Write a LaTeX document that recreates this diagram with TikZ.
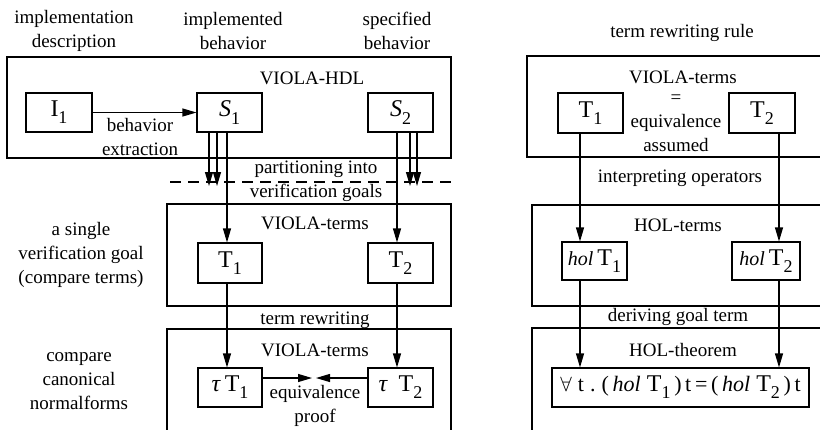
\documentclass[tikz,border=0pt]{standalone}
\usepackage{fontspec}
\setmainfont{Liberation Serif}
\usetikzlibrary{arrows.meta}

% text sizes
\newcommand\lblfont{\fontsize{19}{24}\selectfont}
\newcommand\boxfont{\fontsize{24}{26}\selectfont}
\newcommand\fmfont{\fontsize{22}{22}\selectfont}
% lowered index digit
\newcommand\lowidx[1]{\raisebox{-0.3em}{\fontsize{18}{18}\selectfont #1}}

\begin{document}
\begin{tikzpicture}[x=1pt,y=-1pt,line width=1.1pt,
  region/.style={draw,rectangle,inner sep=0pt},
  item/.style={draw,rectangle,inner sep=0pt,minimum height=39pt,font=\boxfont},
  lbl/.style={align=center,font=\lblfont,inner sep=0pt},
  arr/.style={-{Triangle[length=14pt,width=8pt]}},
  sep/.style={dash pattern=on 11pt off 7pt}]

\useasboundingbox (0,0) rectangle (820,429);
\clip (0,0) rectangle (820,429);

% ---------- left column: regions ----------
\node[region,minimum width=444pt,minimum height=101pt] (hdl) at (229,107.5) {};
\node[region,minimum width=284pt,minimum height=102pt] (vt1) at (309,255) {};
\node[region,minimum width=284pt,minimum height=151pt] (vt2) at (309,404.5) {};

% ---------- right column: regions ----------
\node[region,minimum width=333pt,minimum height=101pt] (rv) at (693.5,106.5) {};
\node[region,minimum width=328pt,minimum height=101pt] (hol) at (696,255.5) {};
\node[region,minimum width=328pt,minimum height=152pt] (thm) at (696,404) {};

% ---------- boxes ----------
\node[item,minimum width=66pt] (I1) at (59,112.5) {I\lowidx{1}};
\node[item,minimum width=65pt] (S1) at (229.5,112.5) {\textit{S}\lowidx{1}};
\node[item,minimum width=65pt] (S2) at (400.5,112.5) {\textit{S}\lowidx{2}};
\node[item,minimum width=64pt,minimum height=40pt] (T1) at (230,263) {T\lowidx{1}};
\node[item,minimum width=65pt,minimum height=40pt] (T2) at (400.5,263) {T\lowidx{2}};
\node[item,minimum width=64pt] (tT1) at (230,387.5) {\textit{τ}\,T\lowidx{1}};
\node[item,minimum width=65pt] (tT2) at (400.5,387.5) {\textit{τ}\;\,T\lowidx{2}};

\node[item,minimum width=65pt,minimum height=40pt] (rT1) at (590.5,113) {T\lowidx{1}};
\node[item,minimum width=66pt,minimum height=40pt] (rT2) at (762,113) {T\lowidx{2}};
\node[item,minimum width=65pt,minimum height=38pt] (hT1) at (594.5,261)
  {{\fontsize{20}{20}\selectfont\textit{hol}}\,T\lowidx{1}};
\node[item,minimum width=68pt,minimum height=38pt] (hT2) at (766,261)
  {{\fontsize{20}{20}\selectfont\textit{hol}}\,T\lowidx{2}};
\node[item,minimum width=257pt] (fa) at (680.5,387.5)
  {{\fmfont$\forall$\;t\;.\;(\,\textit{hol}\;}T\lowidx{1}{\fmfont\,)\,t\,=\,(\,\textit{hol}\;}T\lowidx{2}{\fmfont\,)\,t}};

% ---------- labels ----------
\node[lbl] (tdesc) at (74,30.5) {implementation\\description};
\node[lbl] (timpl) at (233,30.5) {implemented\\behavior};
\node[lbl] (tspec) at (397,30.5) {specified\\behavior};
\node[lbl] (tsingle) at (81,255) {a single\\verification goal\\(compare terms)};
\node[lbl] (tcanon) at (79,381) {compare\\canonical\\normalforms};
\node[lbl] (thdl) at (312,78) {VIOLA-HDL};
\node[lbl] (textr) at (140,136.5) {behavior\\extraction};
\node[lbl] (tpart) at (316,181) {partitioning into\\verification goals};
\node[lbl] (tvt1) at (315,223) {VIOLA-terms};
\node[lbl] (trw) at (315,320) {term rewriting};
\node[lbl] (tvt2) at (315,350) {VIOLA-terms};
\node[lbl] (tproof) at (315,406) {equivalence\\proof};

\node[lbl] (trule) at (682,33) {term rewriting rule};
\node[lbl] (trv) at (683,77) {VIOLA-terms};
\node[lbl] (tassm) at (676,123) {=\\equivalence\\assumed};
\node[lbl] (tinterp) at (680,178) {interpreting operators};
\node[lbl] (thol) at (678,225) {HOL-terms};
\node[lbl] (tderiv) at (678,317) {deriving goal term};
\node[lbl] (tthm) at (683,350) {HOL-theorem};

% ---------- partition separator ----------
\coordinate (dl) at (170,182);
\coordinate (dr) at (451,182);
\draw[sep] (dl) -- (dr);

% ---------- connector columns ----------
\coordinate (xa) at (227,0);
\coordinate (xb) at (397,0);
\coordinate (xc) at (580,0);
\coordinate (xd) at (779,0);

\draw[arr] (I1) -- (S1);

\coordinate (p1) at (209,186);
\coordinate (p2) at (217,186);
\coordinate (p3) at (410,186);
\coordinate (p4) at (417,186);
\draw[arr] (S1.south -| p1) -- (p1);
\draw[arr] (S1.south -| p2) -- (p2);
\draw[arr] (S2.south -| p3) -- (p3);
\draw[arr] (S2.south -| p4) -- (p4);

\draw[arr] (S1.south -| xa) -- (T1.north -| xa);
\draw[arr] (S2.south -| xb) -- (T2.north -| xb);
\draw[arr] (T1.south -| xa) -- (tT1.north -| xa);
\draw[arr] (T2.south -| xb) -- (tT2.north -| xb);

\coordinate (q1) at (312,378);
\coordinate (q2) at (316,378);
\draw[arr] (tT1.east |- q1) -- (q1);
\draw[arr] (tT2.west |- q2) -- (q2);

\draw[arr] (rT1.south -| xc) -- (hT1.north -| xc);
\draw[arr] (rT2.south -| xd) -- (hT2.north -| xd);
\draw[arr] (hT1.south -| xc) -- (fa.north -| xc);
\draw[arr] (hT2.south -| xd) -- (fa.north -| xd);

\end{tikzpicture}
\end{document}
